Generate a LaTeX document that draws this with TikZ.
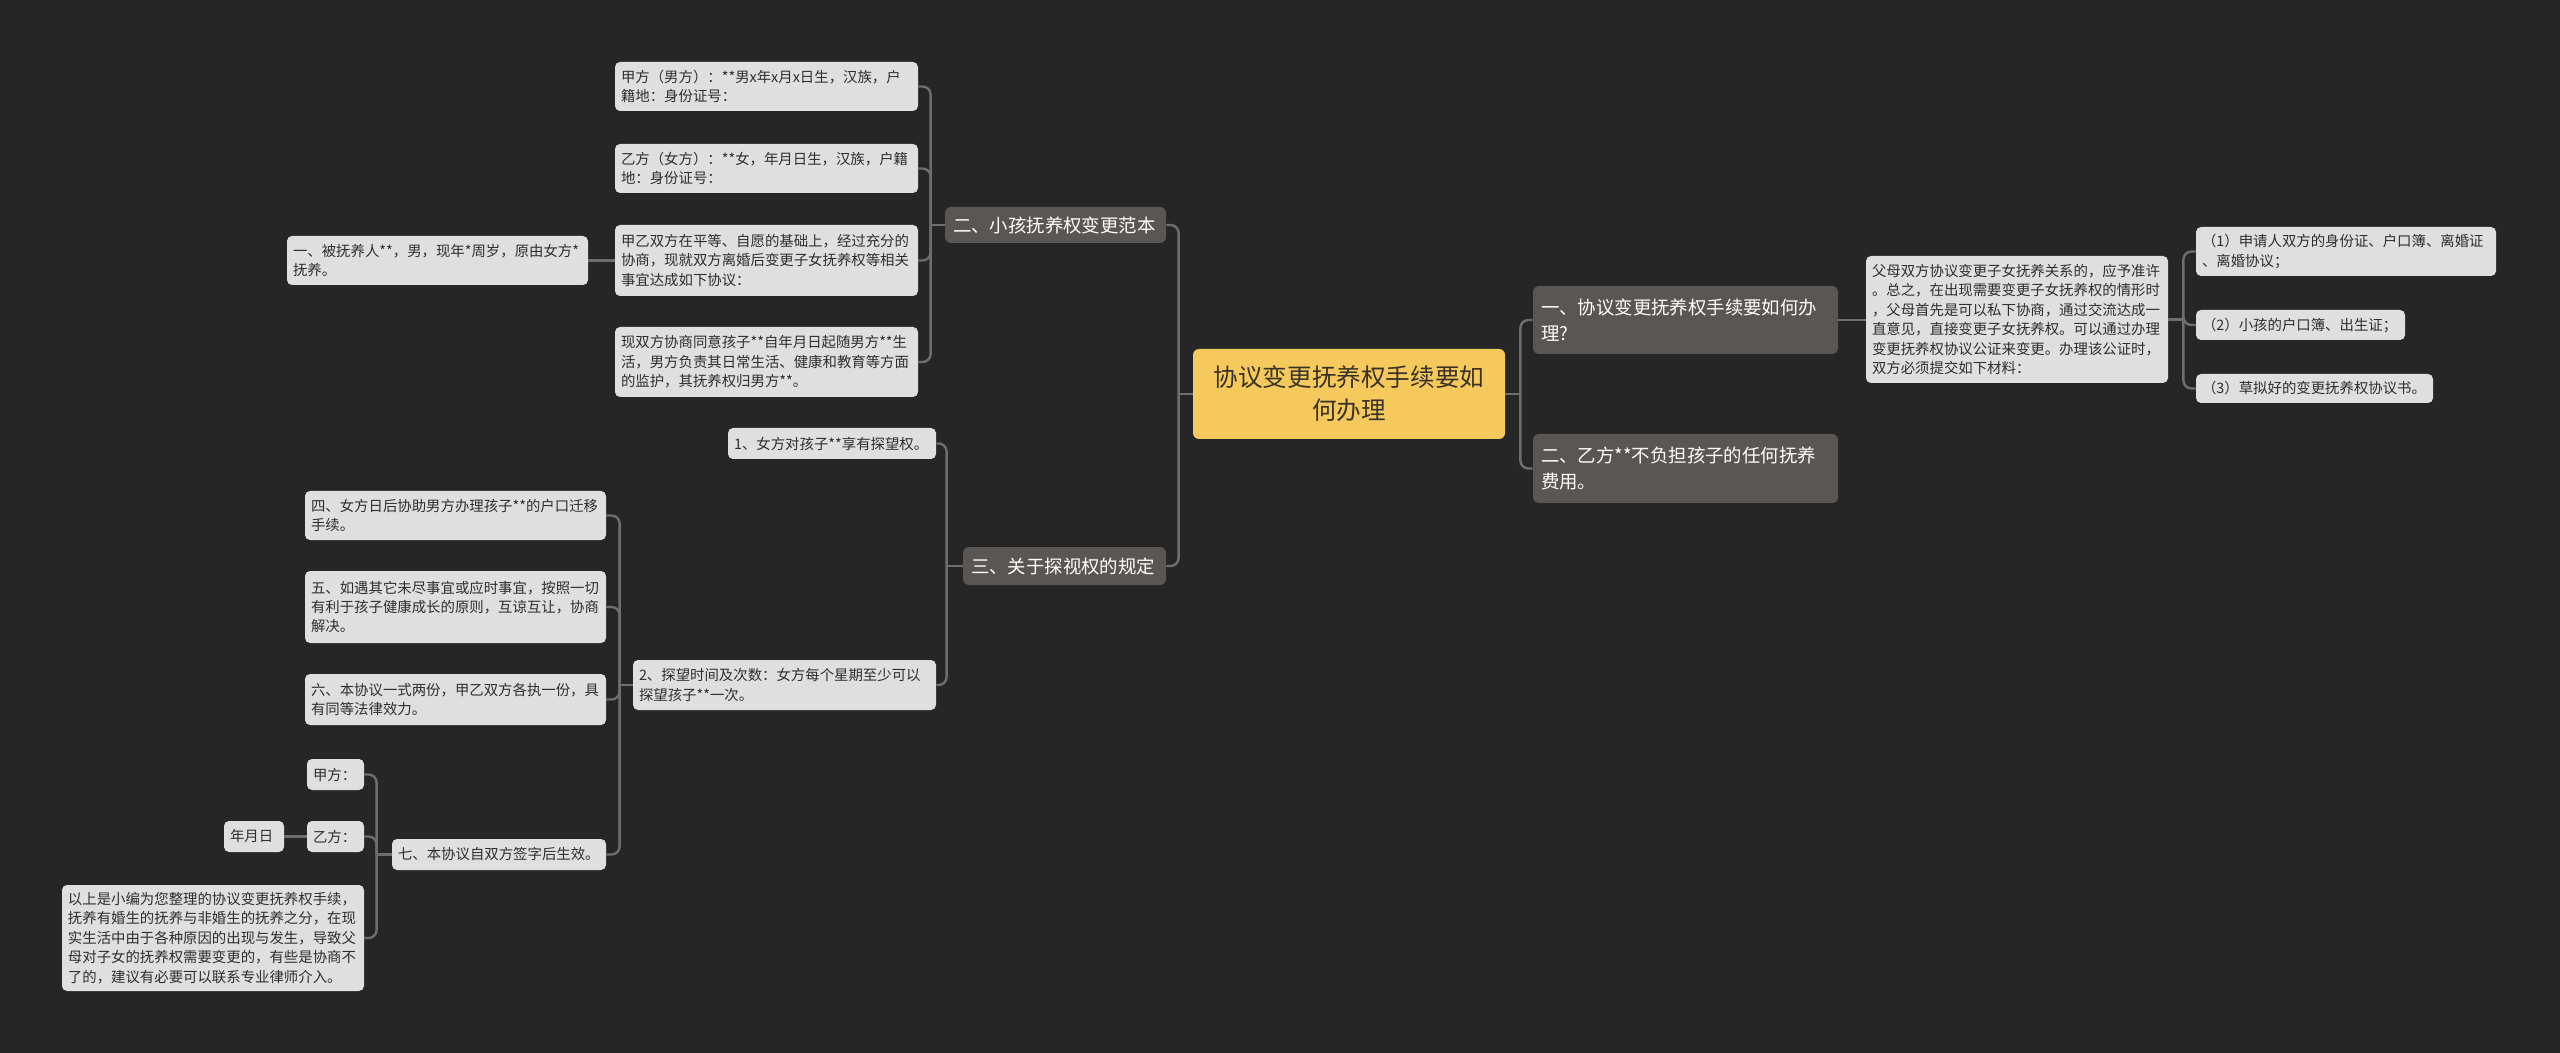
\documentclass[tikz,border=0pt]{standalone}
\usepackage{fontspec}
\setmainfont{Noto Sans CJK SC}
\definecolor{bgc}{HTML}{262626}
\definecolor{lightc}{HTML}{DFDFDF}
\definecolor{lighttext}{HTML}{2E2E2E}
\definecolor{darkc}{HTML}{5A5654}
\definecolor{rootc}{HTML}{F5C95C}
\definecolor{roottext}{HTML}{3A3226}
\definecolor{connc}{HTML}{6E6E6E}
\newcommand\bx[8][3]{%
  \pgfmathsetmacro\bw{(#6-#4)/2}%
  \pgfmathsetmacro\bh{(#7-#5)/2}%
  \pgfmathsetmacro\tw{\bw-2*#1}%
  \node[#2, inner xsep=#1pt, inner ysep=0pt, minimum width=\bw pt, minimum height=\bh pt, text width=\tw pt] (#3) at ({(#4+#6)/2},{(#5+#7)/2}) {#8};%
}
\newcommand\rc[3]{\draw[conn] (#1.east) ++(#3,0) |- (#2.west);}
\newcommand\lc[3]{\draw[conn] (#1.west) ++(#3,0) |- (#2.east);}
\begin{document}
\begin{tikzpicture}[x=0.5pt,y=-0.5pt,
  lightbox/.style={fill=lightc, text=lighttext, rounded corners=2.5pt, align=left, font=\fontsize{7.2}{9.7}\selectfont},
  darkbox/.style={fill=darkc, text=white, rounded corners=3pt, align=left, font=\fontsize{9.2}{13}\selectfont},
  rootbox/.style={fill=rootc, text=roottext, rounded corners=3pt, align=center, font=\fontsize{12.3}{16.5}\selectfont},
  conn/.style={draw=connc, line width=1.2pt, rounded corners=4pt}]
\fill[bgc] (0,0) rectangle (2560,1053);
\useasboundingbox (0,0) rectangle (2560,1053);

% root
\bx[4]{rootbox}{root}{1193}{349}{1505}{439}{协议变更抚养权手续要如\\何办理}

% right side
\bx[4]{darkbox}{R1}{1533}{286}{1838}{354}{一、协议变更抚养权手续要如何办\\理?}
\bx[4]{darkbox}{R2}{1533}{434}{1838}{503}{二、乙方**不负担孩子的任何抚养\\费用。}
\bx{lightbox}{F}{1866}{256}{2168}{383}{父母双方协议变更子女抚养关系的，应予准许\\。总之，在出现需要变更子女抚养权的情形时\\，父母首先是可以私下协商，通过交流达成一\\直意见，直接变更子女抚养权。可以通过办理\\变更抚养权协议公证来变更。办理该公证时，\\双方必须提交如下材料：}
\bx{lightbox}{C1}{2196}{227}{2496}{276}{（1）申请人双方的身份证、户口簿、离婚证\\、离婚协议；}
\bx{lightbox}{C2}{2196}{310}{2405}{340}{（2）小孩的户口簿、出生证；}
\bx{lightbox}{C3}{2196}{374}{2433}{403}{（3）草拟好的变更抚养权协议书。}

% left side
\bx[4]{darkbox}{L1}{945}{207}{1166}{243}{二、小孩抚养权变更范本}
\bx[4]{darkbox}{L2}{963}{547}{1166}{585}{三、关于探视权的规定}
\bx{lightbox}{A1}{615}{62}{918}{111}{甲方（男方）：**男x年x月x日生，汉族，户\\籍地：身份证号：}
\bx{lightbox}{A2}{615}{144}{918}{193}{乙方（女方）：**女，年月日生，汉族，户籍\\地：身份证号：}
\bx{lightbox}{A3}{615}{225}{918}{296}{甲乙双方在平等、自愿的基础上，经过充分的\\协商，现就双方离婚后变更子女抚养权等相关\\事宜达成如下协议：}
\bx{lightbox}{A3a}{287}{236}{588}{285}{一、被抚养人**，男，现年*周岁，原由女方*\\*抚养。}
\bx{lightbox}{A4}{615}{327}{918}{397}{现双方协商同意孩子**自年月日起随男方**生\\活，男方负责其日常生活、健康和教育等方面\\的监护，其抚养权归男方**。}
\bx{lightbox}{B1}{728}{428}{936}{459}{1、女方对孩子**享有探望权。}
\bx{lightbox}{B2}{633}{660}{936}{710}{2、探望时间及次数：女方每个星期至少可以\\探望孩子**一次。}
\bx{lightbox}{D4}{305}{491}{606}{540}{四、女方日后协助男方办理孩子**的户口迁移\\手续。}
\bx{lightbox}{D5}{305}{571}{606}{643}{五、如遇其它未尽事宜或应时事宜，按照一切\\有利于孩子健康成长的原则，互谅互让，协商\\解决。}
\bx{lightbox}{D6}{305}{674}{606}{725}{六、本协议一式两份，甲乙双方各执一份，具\\有同等法律效力。}
\bx{lightbox}{D7}{392}{839}{606}{870}{七、本协议自双方签字后生效。}
\bx{lightbox}{E1}{307}{759}{364}{790}{甲方：}
\bx{lightbox}{E2}{307}{821}{364}{852}{乙方：}
\bx{lightbox}{E2a}{224}{821}{284}{852}{年月日}
\bx{lightbox}{E3}{62}{885}{364}{991}{以上是小编为您整理的协议变更抚养权手续，\\抚养有婚生的抚养与非婚生的抚养之分，在现\\实生活中由于各种原因的出现与发生，导致父\\母对子女的抚养权需要变更的，有些是协商不\\了的，建议有必要可以联系专业律师介入。}

% connectors right
\draw[conn] (root.east) -- ++(15,0);
\rc{root}{R1}{15}
\rc{root}{R2}{15}
\draw[conn] (R1.east) -- (R1.east -| F.west);
\draw[conn] (F.east) -- ++(15,0);
\rc{F}{C1}{15}
\rc{F}{C2}{15}
\rc{F}{C3}{15}

% connectors left
\draw[conn] (root.west) -- ++(-14,0);
\lc{root}{L1}{-14}
\lc{root}{L2}{-14}
\draw[conn] (L1.west) -- ++(-14,0);
\lc{L1}{A1}{-14}
\lc{L1}{A2}{-14}
\lc{L1}{A3}{-14}
\lc{L1}{A4}{-14}
\draw[conn] (A3.west) -- (A3.west -| A3a.east);
\draw[conn] (L2.west) -- ++(-16,0);
\lc{L2}{B1}{-16}
\lc{L2}{B2}{-16}
\draw[conn] (B2.west) -- ++(-13,0);
\lc{B2}{D4}{-13}
\lc{B2}{D5}{-13}
\lc{B2}{D6}{-13}
\lc{B2}{D7}{-13}
\draw[conn] (D7.west) -- ++(-15,0);
\lc{D7}{E1}{-15}
\lc{D7}{E2}{-15}
\lc{D7}{E3}{-15}
\draw[conn] (E2.west) -- (E2.west -| E2a.east);
\end{tikzpicture}
\end{document}
